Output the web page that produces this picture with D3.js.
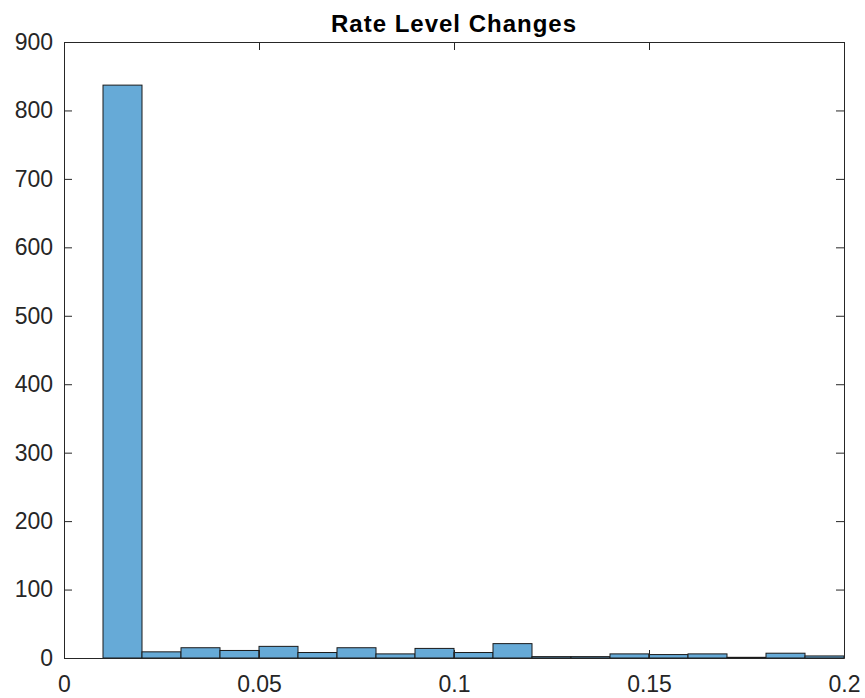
<!DOCTYPE html>
<html>
<head>
<meta charset="utf-8">
<script src="https://cdn.jsdelivr.net/npm/d3@7"></script>
<style>
  body { margin: 0; background: #fff; }
  text { font-family: "Liberation Sans", Arial, sans-serif; fill: #262626; }
</style>
</head>
<body>
<svg id="chart"></svg>
<script>
// histogram bins (edges) and counts
const binEdges = [0.01, 0.02, 0.03, 0.04, 0.05, 0.06, 0.07, 0.08, 0.09, 0.10,
                  0.11, 0.12, 0.13, 0.14, 0.15, 0.16, 0.17, 0.18, 0.19, 0.20];
const counts = [837, 9, 15, 11, 17, 8, 15, 6, 14, 8, 21, 2, 2, 6, 5, 6, 1, 7, 3];
const xTicks = [0, 0.05, 0.1, 0.15, 0.2];
const yTicks = [0, 100, 200, 300, 400, 500, 600, 700, 800, 900];
const title = "Rate Level Changes";

const width = 865, height = 698;
const m = { left: 64, right: 21, top: 42, bottom: 40 };

const svg = d3.select('#chart')
  .attr('width', width)
  .attr('height', height);

const x = d3.scaleLinear().domain([0, 0.2]).range([m.left, width - m.right]);
const y = d3.scaleLinear().domain([0, 900]).range([height - m.bottom, m.top]);

const bins = counts.map((c, i) => ({ x0: binEdges[i], x1: binEdges[i + 1], n: c }));

// bars
svg.append('g')
  .selectAll('rect')
  .data(bins)
  .enter()
  .append('rect')
  .attr('x', d => x(d.x0))
  .attr('y', d => y(d.n))
  .attr('width', d => x(d.x1) - x(d.x0))
  .attr('height', d => y(0) - y(d.n))
  .attr('fill', '#66aad7')
  .attr('stroke', '#1a1a1a')
  .attr('stroke-width', 1);

const axisColor = '#262626';
const tickLen = 8;

// axes (ticks point inward, mirrored on opposite sides)
const xb = svg.append('g').attr('transform', `translate(0,${y(0)})`)
  .call(d3.axisBottom(x).tickValues(xTicks).tickSizeInner(-tickLen).tickSizeOuter(0)
    .tickPadding(18).tickFormat(d3.format('~g')));
const xt = svg.append('g').attr('transform', `translate(0,${y(900)})`)
  .call(d3.axisTop(x).tickValues(xTicks).tickSizeInner(-tickLen).tickSizeOuter(0).tickFormat(''));
const yl = svg.append('g').attr('transform', `translate(${x(0)},0)`)
  .call(d3.axisLeft(y).tickValues(yTicks).tickSizeInner(-tickLen).tickSizeOuter(0).tickPadding(11));
const yr = svg.append('g').attr('transform', `translate(${x(0.2)},0)`)
  .call(d3.axisRight(y).tickValues(yTicks).tickSizeInner(-tickLen).tickSizeOuter(0).tickFormat(''));

[xb, xt, yl, yr].forEach(g => {
  g.select('.domain').attr('stroke', axisColor);
  g.selectAll('.tick line').attr('stroke', axisColor);
  g.selectAll('.tick text')
    .attr('fill', axisColor)
    .style('font-size', '23px')
    .style('font-family', '"Liberation Sans", Arial, sans-serif');
});
xb.selectAll('.tick text').attr('dy', '0.71em');

// title
svg.append('text')
  .attr('x', (x(0) + x(0.2)) / 2)
  .attr('y', 32)
  .attr('text-anchor', 'middle')
  .style('font-size', '24px')
  .style('font-weight', 'bold')
  .style('letter-spacing', '1px')
  .style('fill', '#000')
  .text(title);
</script>
</body>
</html>
